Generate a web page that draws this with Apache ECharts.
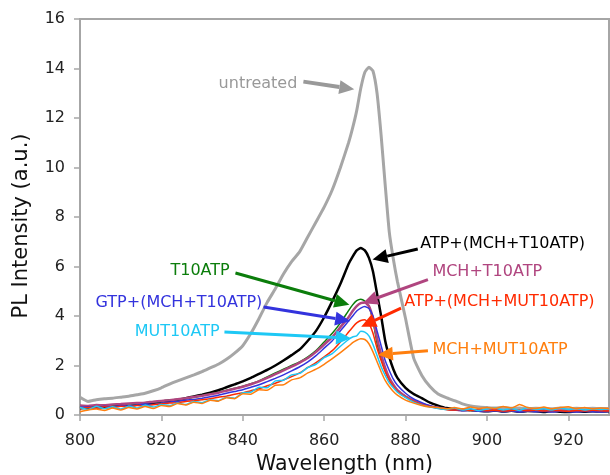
<!DOCTYPE html>
<html>
<head>
<meta charset="utf-8">
<script src="https://cdn.jsdelivr.net/npm/echarts@6/dist/echarts.min.js"></script>
<style>
  html, body { margin: 0; padding: 0; background: #fff; }
  #chart { width: 610px; height: 475px; }
</style>
</head>
<body>
<div id="chart"></div>
<script>
// wavelength (nm), denser around the peak
const wl = [800,802,804,806,808,810,812,814,816,818,820,822,824,826,828,830,832,834,836,838,
  840,842,844,846,848,850,852,854,856,858,860,862,864,866,
  867,868,869,870,871,872,873,874,875,876,877,878,
  880,882,884,886,888,890,892,894,896,898,900,902,904,906,908,910,912,914,916,918,920,922,924,926,928,930];

const untreated = [0.72,0.55,0.62,0.66,0.68,0.72,0.76,0.82,0.88,0.98,1.10,1.25,1.38,1.50,1.62,1.75,1.90,2.05,2.25,2.50,
  2.80,3.30,3.90,4.55,5.10,5.70,6.20,6.60,7.20,7.80,8.40,9.10,10.0,11.0,
  11.6,12.3,13.2,13.85,14.05,13.9,13.0,11.3,9.3,7.4,6.3,5.4,
  3.9,2.3,1.6,1.15,0.85,0.70,0.58,0.45,0.36,0.32,0.30,0.28,0.30,0.27,0.28,0.25,0.27,0.26,0.25,0.28,0.25,0.27,0.25,0.27,0.26,0.26];

const atpT10 = [0.27,0.30,0.32,0.30,0.35,0.38,0.36,0.42,0.45,0.48,0.54,0.58,0.62,0.68,0.75,0.82,0.90,1.00,1.12,1.24,
  1.36,1.50,1.66,1.82,2.00,2.20,2.42,2.65,3.00,3.40,3.95,4.60,5.30,6.10,
  6.40,6.65,6.75,6.65,6.35,5.80,4.90,4.00,3.00,2.35,1.85,1.50,
  1.10,0.85,0.68,0.50,0.38,0.28,0.24,0.20,0.20,0.17,0.15,0.18,0.14,0.17,0.13,0.16,0.15,0.12,0.16,0.13,0.12,0.15,0.13,0.15,0.14,0.15];

const t10atp = [0.35,0.32,0.38,0.36,0.40,0.42,0.45,0.44,0.50,0.52,0.55,0.60,0.62,0.68,0.72,0.78,0.85,0.92,1.00,1.08,
  1.16,1.26,1.38,1.54,1.70,1.85,2.00,2.15,2.35,2.60,2.95,3.30,3.72,4.22,
  4.45,4.62,4.68,4.60,4.40,3.80,2.90,2.30,1.80,1.45,1.20,1.00,
  0.75,0.58,0.45,0.35,0.28,0.23,0.20,0.22,0.18,0.20,0.17,0.19,0.16,0.18,0.17,0.15,0.18,0.16,0.17,0.15,0.18,0.16,0.17,0.15,0.17,0.16];

const mchT10 = [0.38,0.36,0.40,0.39,0.42,0.44,0.46,0.48,0.50,0.54,0.57,0.60,0.64,0.68,0.73,0.78,0.84,0.90,0.98,1.06,
  1.14,1.24,1.36,1.50,1.65,1.80,1.95,2.12,2.30,2.55,2.85,3.15,3.55,3.95,
  4.20,4.40,4.52,4.55,4.40,3.90,3.10,2.45,1.90,1.50,1.22,1.00,
  0.75,0.58,0.45,0.36,0.29,0.24,0.22,0.20,0.21,0.19,0.18,0.20,0.17,0.19,0.16,0.18,0.17,0.19,0.16,0.18,0.17,0.16,0.18,0.17,0.16,0.17];

const gtpT10 = [0.30,0.33,0.28,0.35,0.32,0.38,0.36,0.40,0.44,0.42,0.48,0.52,0.55,0.60,0.63,0.68,0.74,0.80,0.88,0.95,
  1.02,1.12,1.22,1.35,1.48,1.62,1.78,1.95,2.15,2.40,2.70,3.00,3.40,3.80,
  4.00,4.20,4.32,4.38,4.30,4.00,3.40,2.80,2.20,1.80,1.45,1.20,
  0.88,0.65,0.50,0.38,0.30,0.24,0.20,0.17,0.19,0.15,0.14,0.17,0.13,0.16,0.12,0.15,0.13,0.14,0.12,0.15,0.13,0.12,0.14,0.13,0.12,0.14];

const atpMut10 = [0.25,0.30,0.28,0.33,0.30,0.35,0.33,0.38,0.36,0.42,0.45,0.48,0.50,0.55,0.58,0.62,0.66,0.72,0.76,0.84,
  0.90,0.98,1.06,1.18,1.28,1.42,1.55,1.70,1.92,2.12,2.35,2.60,2.95,3.35,
  3.55,3.72,3.82,3.85,3.70,3.30,2.70,2.20,1.75,1.40,1.15,0.95,
  0.72,0.55,0.42,0.34,0.28,0.22,0.20,0.22,0.18,0.20,0.17,0.19,0.16,0.18,0.20,0.17,0.19,0.16,0.18,0.17,0.15,0.18,0.16,0.19,0.17,0.16];

const mut10atp = [0.30,0.22,0.35,0.25,0.33,0.24,0.36,0.28,0.40,0.32,0.42,0.38,0.48,0.42,0.55,0.50,0.62,0.58,0.72,0.68,
  0.90,0.92,1.12,1.10,1.38,1.40,1.62,1.68,1.92,2.05,2.32,2.48,2.78,3.05,
  3.15,3.20,3.38,3.35,3.20,2.85,2.40,1.95,1.60,1.30,1.10,0.92,
  0.70,0.52,0.40,0.32,0.26,0.22,0.28,0.20,0.25,0.18,0.24,0.28,0.20,0.26,0.18,0.30,0.22,0.25,0.20,0.28,0.22,0.26,0.20,0.24,0.22,0.25];

const mchMut10 = [0.13,0.20,0.24,0.18,0.28,0.20,0.30,0.24,0.34,0.26,0.38,0.34,0.46,0.40,0.52,0.46,0.60,0.56,0.70,0.66,
  0.86,0.84,1.02,1.00,1.20,1.22,1.42,1.50,1.70,1.85,2.05,2.28,2.52,2.78,
  2.92,3.02,3.08,3.05,2.88,2.55,2.15,1.75,1.40,1.15,0.95,0.80,
  0.60,0.48,0.38,0.32,0.30,0.25,0.30,0.24,0.32,0.26,0.30,0.26,0.34,0.28,0.42,0.30,0.26,0.32,0.25,0.30,0.33,0.26,0.30,0.25,0.28,0.26];

// name, values, colour, line width
const curves = [
  ['untreated', untreated, '#a6a6a6', 3],
  ['ATP+(MCH+T10ATP)', atpT10, '#000000', 2.5],
  ['T10ATP', t10atp, '#0b7d0b', 1.5],
  ['MCH+T10ATP', mchT10, '#b0457f', 2.5],
  ['GTP+(MCH+T10ATP)', gtpT10, '#3333dd', 1.5],
  ['ATP+(MCH+MUT10ATP)', atpMut10, '#ff2a00', 1.5],
  ['MUT10ATP', mut10atp, '#1ec8f5', 1.5],
  ['MCH+MUT10ATP', mchMut10, '#ff7f0e', 1.5]
];

// annotation: text, colour, text anchor [nm, a.u.], align, arrow tail, arrow tip
const notes = [
  ['untreated', '#999999', [853.4, 13.36], 'right', [854.9, 13.47], [867.4, 13.16]],
  ['ATP+(MCH+T10ATP)', '#000000', [883.6, 6.9], 'left', [883.0, 6.71], [871.9, 6.28]],
  ['MCH+T10ATP', '#b0457f', [886.6, 5.8], 'left', [885.5, 5.47], [869.5, 4.52]],
  ['ATP+(MCH+MUT10ATP)', '#ff2a00', [879.7, 4.59], 'left', [878.9, 4.32], [869.1, 3.57]],
  ['MCH+MUT10ATP', '#ff7f0e', [886.6, 2.63], 'left', [885.5, 2.6], [873.2, 2.43]],
  ['T10ATP', '#0b7d0b', [836.8, 5.83], 'right', [838.2, 5.74], [866.2, 4.45]],
  ['GTP+(MCH+T10ATP)', '#3333dd', [844.8, 4.55], 'right', [845.1, 4.36], [866.4, 3.8]],
  ['MUT10ATP', '#1ec8f5', [834.3, 3.35], 'right', [835.5, 3.35], [866.6, 3.1]]
];

const font = 'DejaVu Sans, Verdana, sans-serif';
const chart = echarts.init(document.getElementById('chart'));

chart.setOption({
  animation: false,
  grid: { left: 80, right: 1, top: 19, bottom: 60, outerBoundsMode: 'none', containLabel: false,
    show: true, borderColor: '#a6a6a6', borderWidth: 2 },
  xAxis: {
    type: 'value', min: 800, max: 930, interval: 20,
    name: 'Wavelength (nm)', nameLocation: 'middle', nameGap: 38,
    nameTextStyle: { fontFamily: font, fontSize: 20.5, color: '#111' },
    axisLine: { lineStyle: { color: '#a6a6a6', width: 2 } },
    axisTick: { length: 6, lineStyle: { color: '#a6a6a6', width: 1.5 } },
    axisLabel: { fontFamily: font, fontSize: 16, color: '#222', margin: 18, showMaxLabel: false },
    splitLine: { show: false }
  },
  yAxis: {
    type: 'value', min: 0, max: 16, interval: 2,
    name: 'PL Intensity (a.u.)', nameLocation: 'middle', nameGap: 48,
    nameTextStyle: { fontFamily: font, fontSize: 21, color: '#111', padding: [0, 18, 0, 0] },
    axisLine: { show: true, lineStyle: { color: '#a6a6a6', width: 2 } },
    axisTick: { show: true, length: 6, lineStyle: { color: '#a6a6a6', width: 1.5 } },
    axisLabel: { fontFamily: font, fontSize: 16, color: '#222', margin: 15 },
    splitLine: { show: false }
  },
  series: curves.map(c => ({
    name: c[0],
    type: 'line',
    showSymbol: false,
    smooth: 0.15,
    data: wl.map((x, i) => [x, c[1][i]]),
    lineStyle: { color: c[2], width: c[3] },
    itemStyle: { color: c[2] }
  }))
});

// arrows and labels drawn on top, placed via the grid's coordinate system
function px(p) { return chart.convertToPixel({ gridIndex: 0 }, p); }
const g = [];
notes.forEach(n => {
  const t = px(n[2]), a = px(n[4]), b = px(n[5]);
  const w = n[0] === 'untreated' ? 4 : 3;
  const dx = b[0] - a[0], dy = b[1] - a[1], len = Math.hypot(dx, dy);
  const ux = dx / len, uy = dy / len;
  const hl = 15, hw = 7;
  const bx = b[0] - ux * hl, by = b[1] - uy * hl;
  g.push({ type: 'line', z: 100, shape: { x1: a[0], y1: a[1], x2: bx, y2: by },
    style: { stroke: n[1], lineWidth: w } });
  g.push({ type: 'polygon', z: 100, shape: { points: [[b[0], b[1]], [bx - uy * hw, by + ux * hw], [bx + uy * hw, by - ux * hw]] },
    style: { fill: n[1] } });
  g.push({ type: 'text', z: 100, x: t[0], y: t[1],
    style: { text: n[0], fill: n[1], font: '16px ' + font, align: n[3], verticalAlign: 'middle' } });
});
chart.setOption({ graphic: g });
</script>
</body>
</html>
